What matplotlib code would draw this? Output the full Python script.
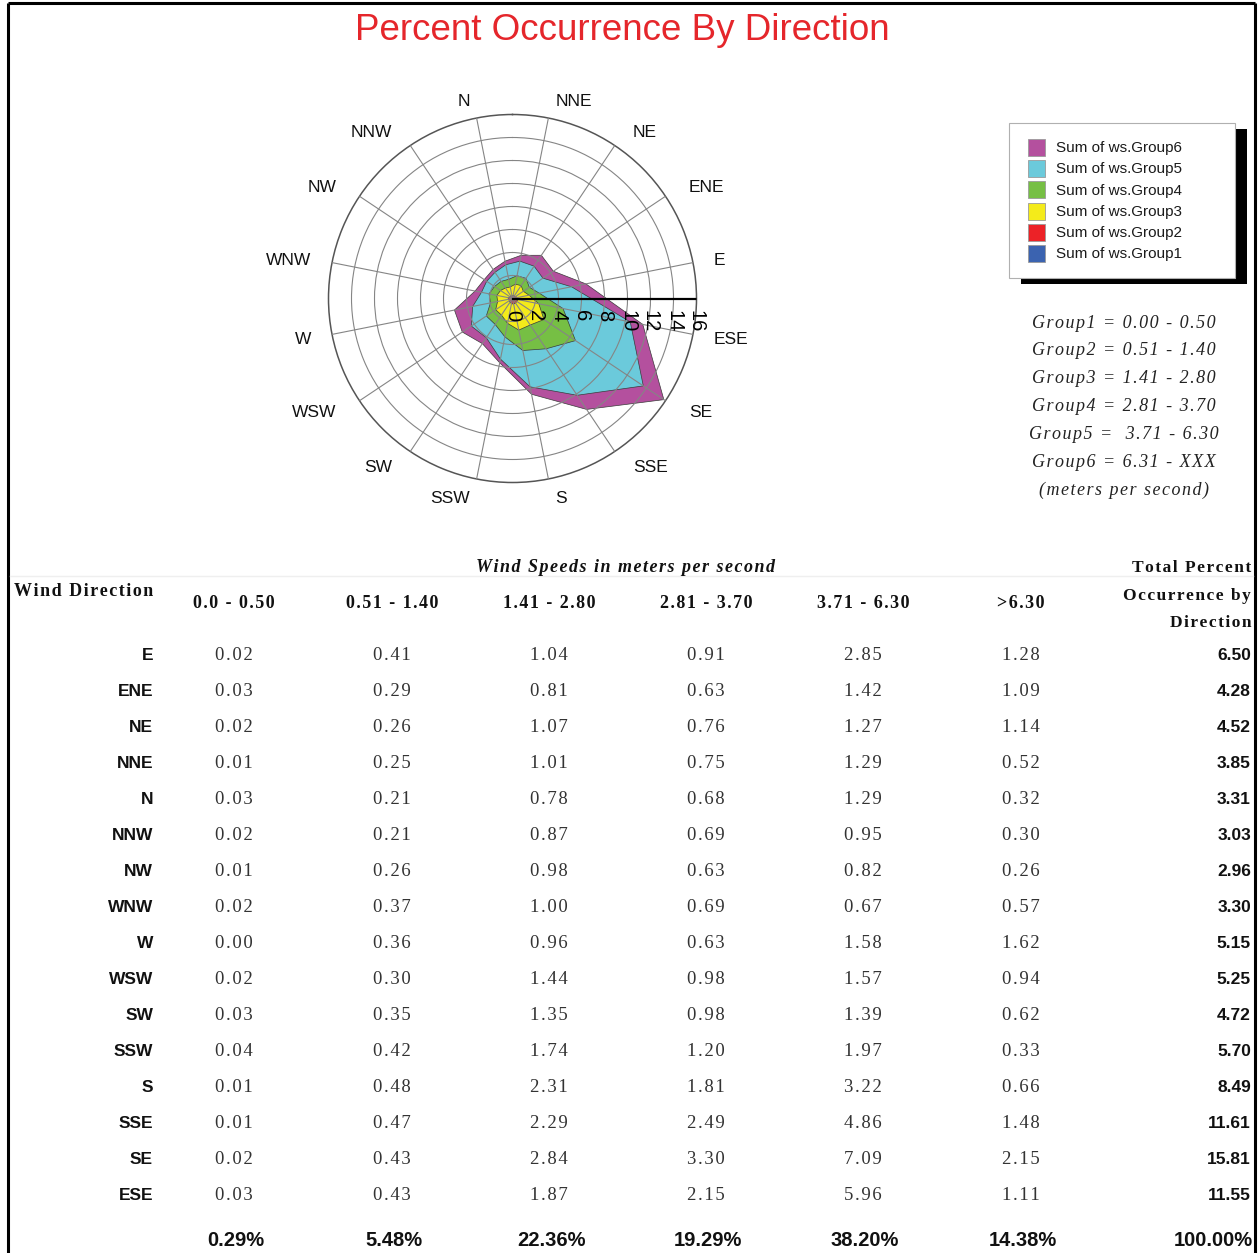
import numpy as np
import matplotlib
matplotlib.use("Agg")
import matplotlib.pyplot as plt
from matplotlib.patches import Rectangle

# ---- data -------------------------------------------------------------
TABLE_DIRS = ["E", "ENE", "NE", "NNE", "N", "NNW", "NW", "WNW",
              "W", "WSW", "SW", "SSW", "S", "SSE", "SE", "ESE"]
COMPASS = ["N", "NNE", "NE", "ENE", "E", "ESE", "SE", "SSE",
           "S", "SSW", "SW", "WSW", "W", "WNW", "NW", "NNW"]

group1 = [0.02, 0.03, 0.02, 0.01, 0.03, 0.02, 0.01, 0.02, 0.00, 0.02, 0.03, 0.04, 0.01, 0.01, 0.02, 0.03]
group2 = [0.41, 0.29, 0.26, 0.25, 0.21, 0.21, 0.26, 0.37, 0.36, 0.30, 0.35, 0.42, 0.48, 0.47, 0.43, 0.43]
group3 = [1.04, 0.81, 1.07, 1.01, 0.78, 0.87, 0.98, 1.00, 0.96, 1.44, 1.35, 1.74, 2.31, 2.29, 2.84, 1.87]
group4 = [0.91, 0.63, 0.76, 0.75, 0.68, 0.69, 0.63, 0.69, 0.63, 0.98, 0.98, 1.20, 1.81, 2.49, 3.30, 2.15]
group5 = [2.85, 1.42, 1.27, 1.29, 1.29, 0.95, 0.82, 0.67, 1.58, 1.57, 1.39, 1.97, 3.22, 4.86, 7.09, 5.96]
group6 = [1.28, 1.09, 1.14, 0.52, 0.32, 0.30, 0.26, 0.57, 1.62, 0.94, 0.62, 0.33, 0.66, 1.48, 2.15, 1.11]
totals = [6.50, 4.28, 4.52, 3.85, 3.31, 3.03, 2.96, 3.30, 5.15, 5.25, 4.72, 5.70, 8.49, 11.61, 15.81, 11.55]
col_totals = [0.29, 5.48, 22.36, 19.29, 38.20, 14.38]
grand_total = 100.00

SPEED_BINS = ["0.0 - 0.50", "0.51 - 1.40", "1.41 - 2.80", "2.81 - 3.70", "3.71 - 6.30", ">6.30"]
GROUP_RANGES = ["Group1 = 0.00 - 0.50", "Group2 = 0.51 - 1.40", "Group3 = 1.41 - 2.80",
                "Group4 = 2.81 - 3.70", "Group5 =  3.71 - 6.30", "Group6 = 6.31 - XXX"]
LEGEND_LABELS = ["Sum of ws.Group6", "Sum of ws.Group5", "Sum of ws.Group4",
                 "Sum of ws.Group3", "Sum of ws.Group2", "Sum of ws.Group1"]
R_TICKS = [0, 2, 4, 6, 8, 10, 12, 14, 16]

groups = [group1, group2, group3, group4, group5, group6]
COLORS = ["#3B63B0", "#EC2227", "#F4EB1A", "#76BF44", "#6BCADB", "#B4509E"]

SANS = "Liberation Sans"
SERIF = ["Liberation Serif", "DejaVu Serif"]
HAIR = "\u200a"


def tracked(s, gap):
    """Widen the letter spacing of a string."""
    return gap.join(s)


W, H = 1260, 1253
fig = plt.figure(figsize=(W / 100, H / 100), dpi=100)
fig.patch.set_facecolor("white")

# full-figure overlay in pixel units (y grows downward)
ov = fig.add_axes([0, 0, 1, 1], zorder=0)
ov.set_xlim(0, W)
ov.set_ylim(H, 0)
ov.axis("off")

# page frame
ov.plot([8, 8], [H, 3], color="black", lw=2.2, solid_capstyle="butt")
ov.plot([8, 1255], [3, 3], color="black", lw=2.2, solid_capstyle="butt")
ov.plot([1255, 1255], [3, H], color="black", lw=2.2, solid_capstyle="butt")

ov.text(622, 30, "Percent Occurrence By Direction", color="#E5262B",
        fontsize=26.5, family=SANS, ha="center", va="center")

# ---- wind rose --------------------------------------------------------
cx, cy, R = 512.5, 298.5, 184.0
pax = fig.add_axes([(cx - R) / W, 1 - (cy + R) / H, 2 * R / W, 2 * R / H],
                   projection="polar", zorder=2)
pax.set_theta_zero_location("N")
pax.set_theta_direction(-1)
pax.set_ylim(0, 16)

# series are drawn at the sector centres, offset half a sector
order = [TABLE_DIRS.index(d) for d in COMPASS]
theta = np.radians(np.arange(16) * 22.5 - 11.25)
cum = np.cumsum(np.array(groups), axis=0)[:, order]
tc = np.append(theta, theta[0])
for k in range(5, -1, -1):
    rc = np.append(cum[k], cum[k][0])
    pax.fill(tc, rc, facecolor=COLORS[k], edgecolor="#3a3a3a", lw=0.5, zorder=1)

pax.set_axisbelow(False)
pax.set_rgrids([2, 4, 6, 8, 10, 12, 14], labels=[])
pax.set_thetagrids(np.arange(16) * 22.5 + 11.25, labels=[])
pax.grid(True, color="#858585", lw=0.8)
pax.spines["polar"].set_color("#555555")
pax.spines["polar"].set_linewidth(1.1)
pax.tick_params(length=0)

# radial axis along the east line with rotated value labels
pax.plot([np.pi / 2, np.pi / 2], [0, 16], color="black", lw=1.6, zorder=5)
for r in R_TICKS:
    pax.annotate(str(r), (np.pi / 2, r), xytext=(0, -12), textcoords="offset pixels",
                 rotation=-90, ha="center", va="top", fontsize=14.5, family=SANS,
                 color="black", zorder=6, annotation_clip=False)

# compass labels
r_lab = 202.0 / R * 16
for i, name in enumerate(COMPASS):
    th = theta[i]
    s = np.sin(th)
    if s > 0.1:
        ha, dx = "left", 9 * abs(np.sin(2 * th))
    elif s < -0.1:
        ha, dx = "right", -9 * abs(np.sin(2 * th))
    else:
        ha, dx = "center", 0
    pax.annotate(name, (th, r_lab), xytext=(dx, -1.5), textcoords="offset pixels",
                 ha=ha, va="center", fontsize=12.5, family=SANS, color="#111111",
                 annotation_clip=False)

# ---- legend -----------------------------------------------------------
ov.add_patch(Rectangle((1021, 129), 226, 155, facecolor="black", edgecolor="none"))
ov.add_patch(Rectangle((1009, 123), 226, 155, facecolor="white", edgecolor="#b0b0b0", lw=0.8))
leg_y = [147, 168, 189.5, 211, 232, 253]
for j, lab in enumerate(LEGEND_LABELS):
    ov.add_patch(Rectangle((1028, leg_y[j] - 8.5), 17, 17, facecolor=COLORS[5 - j],
                           edgecolor="#9a9a9a", lw=0.6))
    ov.text(1056, leg_y[j] + 1, lab, fontsize=11, family=SANS, color="#1a1a1a",
            ha="left", va="center")

# speed-group definitions
for j, txt in enumerate(GROUP_RANGES + ["(meters per second)"]):
    ov.text(1124, 323 + j * 27.9, tracked(txt, HAIR), fontsize=13, family=SERIF,
            style="italic", color="#222222", ha="center", va="center")

# ---- table ------------------------------------------------------------
col_x = [234, 392, 549, 706, 863, 1021]
ov.plot([10, 1253], [576, 576], color="#efefef", lw=1)
ov.text(625, 568, tracked("Wind Speeds in meters per second", HAIR), fontsize=13,
        family=SERIF, weight="bold", style="italic", ha="center", va="center",
        color="#111111")
ov.text(14, 591, tracked("Wind Direction", HAIR), fontsize=13, family=SERIF,
        weight="bold", ha="left", va="center", color="#111111")
for x, lab in zip(col_x, SPEED_BINS):
    ov.text(x, 604, tracked(lab, HAIR), fontsize=13, family=SERIF, weight="bold",
            ha="center", va="center", color="#111111")
for y, lab in zip([568, 596, 623], ["Total Percent", "Occurrence by", "Direction"]):
    ov.text(1251, y, tracked(lab, HAIR), fontsize=12.5, family=SERIF, weight="bold",
            ha="right", va="center", color="#111111")

for i, d in enumerate(TABLE_DIRS):
    y = 656 + i * 36
    ov.text(153, y, d, fontsize=12.5, family=SANS, weight="bold",
            ha="right", va="center", color="#111111")
    for k in range(6):
        ov.text(col_x[k], y, tracked(f"{groups[k][i]:.2f}", HAIR), fontsize=13.5,
                family=SERIF, ha="center", va="center", color="#333333")
    ov.text(1251, y, f"{totals[i]:.2f}", fontsize=12.5, family=SANS, weight="bold",
            ha="right", va="center", color="#111111")

for k in range(6):
    ov.text(col_x[k] + 2, 1241, f"{col_totals[k]:.2f}%", fontsize=14.5, family=SANS,
            weight="bold", ha="center", va="center", color="#111111")
ov.text(1253, 1241, f"{grand_total:.2f}%", fontsize=14.5, family=SANS, weight="bold",
        ha="right", va="center", color="#111111")

fig.savefig("out.png", dpi=100, facecolor="white")
